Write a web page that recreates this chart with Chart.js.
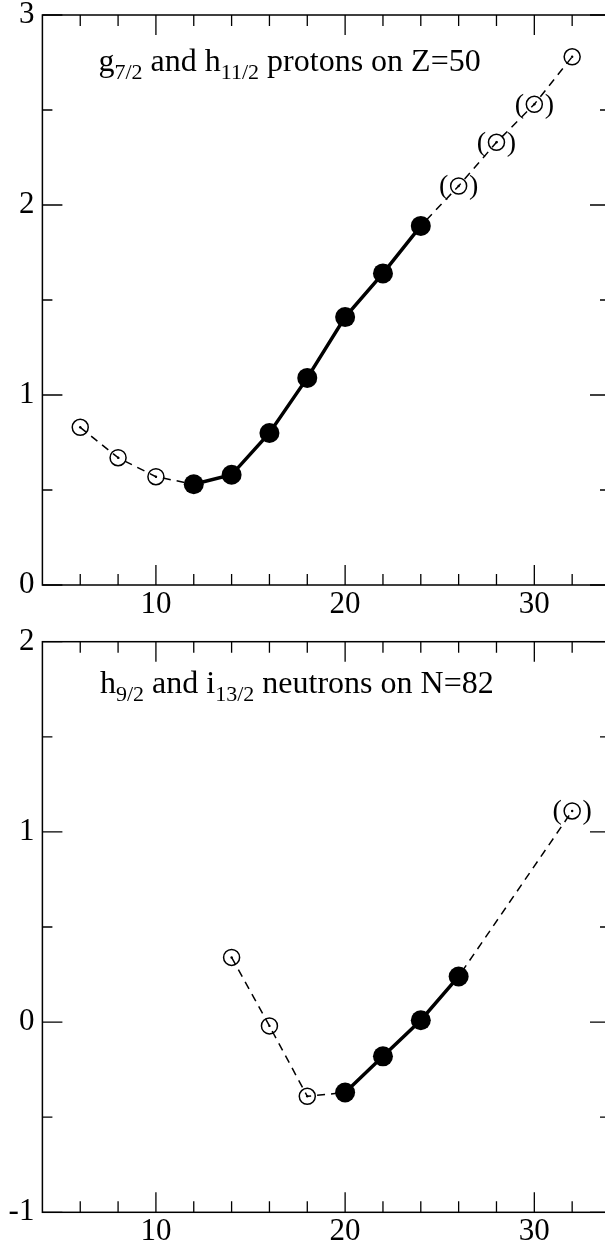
<!DOCTYPE html>
<html>
<head>
<meta charset="utf-8">
<script src="https://cdn.jsdelivr.net/npm/chart.js@4/dist/chart.umd.min.js"></script>
<style>
  html, body { margin: 0; padding: 0; background: #fff; }
  #wrap { position: relative; width: 605px; height: 1247px; overflow: hidden; background: #fff; }
  canvas { position: absolute; left: 0; }
</style>
</head>
<body>
<div id="wrap">
  <canvas id="protonPanel" width="620" height="625" style="top:0px"></canvas>
  <canvas id="neutronPanel" width="620" height="621" style="top:626px"></canvas>
</div>
<script>
// Upper panel: g7/2 and h11/2 protons on Z=50
const topX = [6, 8, 10, 12, 14, 16, 18, 20, 22, 24, 26, 28, 30, 32];
const topY = [0.83, 0.67, 0.57, 0.53, 0.58, 0.80, 1.09, 1.41, 1.64, 1.89, 2.10, 2.33, 2.53, 2.78];
const topFilled = [0, 0, 0, 1, 1, 1, 1, 1, 1, 1, 0, 0, 0, 0];
const topBracketed = [0, 0, 0, 0, 0, 0, 0, 0, 0, 0, 1, 1, 1, 0];

// Lower panel: h9/2 and i13/2 neutrons on N=82
const botX = [14, 16, 18, 20, 22, 24, 26, 32];
const botY = [0.34, -0.02, -0.39, -0.37, -0.18, 0.01, 0.24, 1.11];
const botFilled = [0, 0, 0, 1, 1, 1, 1, 0];
const botBracketed = [0, 0, 0, 0, 0, 0, 0, 1];

// Axis ticks
const xMajorTicks = [10, 20, 30];
const xMinorTicks = [6, 8, 12, 14, 16, 18, 22, 24, 26, 28, 32];
const topYMajor = [0, 1, 2, 3];
const topYMinor = [0.5, 1.5, 2.5];
const botYMajor = [-1, 0, 1, 2];
const botYMinor = [-0.5, 0.5, 1.5];

// Panel captions (text, 'sub' for subscripts)
const topCaption = [['g', ''], ['7/2', 'sub'], [' and h', ''], ['11/2', 'sub'], [' protons on Z=50', '']];
const botCaption = [['h', ''], ['9/2', 'sub'], [' and i', ''], ['13/2', 'sub'], [' neutrons on N=82', '']];

const SERIF = '"Liberation Serif", "Times New Roman", serif';

// Closed frame with inward major/minor ticks on all four sides
const frameTicks = {
  id: 'frameTicks',
  beforeDatasetsDraw(chart, args, o) {
    const { ctx, chartArea: a, scales: { x, y } } = chart;
    ctx.save();
    ctx.strokeStyle = '#000';
    ctx.lineWidth = 1.5;
    ctx.strokeRect(a.left, a.top, a.right - a.left, a.bottom - a.top);
    ctx.lineWidth = 1.3;
    ctx.beginPath();
    const tx = (v, len) => {
      const p = x.getPixelForValue(v);
      ctx.moveTo(p, a.bottom); ctx.lineTo(p, a.bottom - len);
      ctx.moveTo(p, a.top); ctx.lineTo(p, a.top + len);
    };
    const ty = (v, len) => {
      const p = y.getPixelForValue(v);
      ctx.moveTo(a.left, p); ctx.lineTo(a.left + len, p);
      ctx.moveTo(a.right, p); ctx.lineTo(a.right - len, p);
    };
    o.xMajor.forEach(v => tx(v, 20));
    o.xMinor.forEach(v => tx(v, 11));
    o.yMajor.forEach(v => ty(v, 20));
    o.yMinor.forEach(v => ty(v, 10));
    ctx.stroke();
    ctx.restore();
  }
};

// Parentheses around tentative points
const brackets = {
  id: 'brackets',
  afterDatasetsDraw(chart, args, o) {
    const ctx = chart.ctx;
    const meta = chart.getDatasetMeta(0);
    ctx.save();
    ctx.fillStyle = '#000';
    ctx.font = '28px ' + SERIF;
    ctx.textAlign = 'center';
    ctx.textBaseline = 'middle';
    o.flags.forEach((f, i) => {
      if (!f) return;
      const p = meta.data[i];
      ctx.fillText('(', p.x - 15, p.y + 1);
      ctx.fillText(')', p.x + 15, p.y + 1);
    });
    ctx.restore();
  }
};

// Caption with subscripts
const caption = {
  id: 'caption',
  afterDraw(chart, args, o) {
    const ctx = chart.ctx;
    ctx.save();
    ctx.fillStyle = '#000';
    ctx.textBaseline = 'alphabetic';
    ctx.textAlign = 'left';
    let x = o.x;
    for (const [s, kind] of o.parts) {
      const sub = kind === 'sub';
      ctx.font = (sub ? o.subSize : o.size) + 'px ' + SERIF;
      ctx.fillText(s, x, o.y + (sub ? o.subShift : 0));
      x += ctx.measureText(s).width;
    }
    ctx.restore();
  }
};

function buildPanel(id, xs, ys, filled, bracketed, yMin, yMax, yMajor, yMinor, parts, g) {
  const allPts = xs.map((x, i) => ({ x, y: ys[i] }));
  const openPts = xs.map((x, i) => ({ x, y: filled[i] ? null : ys[i] }));
  const solidPts = xs.map((x, i) => ({ x, y: filled[i] ? ys[i] : null }));
  return new Chart(document.getElementById(id), {
    type: 'line',
    data: {
      datasets: [
        {
          data: allPts, order: 3, tension: 0,
          borderColor: '#000', borderWidth: 1.5, borderDash: [8, 6],
          pointRadius: filled.map(f => (f ? 0 : 8)),
          pointBorderWidth: 1.5, pointBorderColor: '#000',
          pointBackgroundColor: 'rgba(0,0,0,0)'
        },
        {
          data: openPts, order: 2, showLine: false,
          pointRadius: 1.2, pointBorderWidth: 0,
          pointBackgroundColor: '#000'
        },
        {
          data: solidPts, order: 1, tension: 0, spanGaps: false,
          borderColor: '#000', borderWidth: 3.5,
          pointRadius: 10, pointBorderWidth: 0,
          pointBackgroundColor: '#000', pointBorderColor: '#000'
        }
      ]
    },
    plugins: [frameTicks, brackets, caption],
    options: {
      responsive: false,
      animation: false,
      devicePixelRatio: 1,
      events: [],
      layout: { padding: { top: g.top, right: g.right, left: 0, bottom: 0 } },
      plugins: {
        legend: { display: false },
        tooltip: { enabled: false },
        frameTicks: { xMajor: xMajorTicks, xMinor: xMinorTicks, yMajor, yMinor },
        brackets: { flags: bracketed },
        caption: { parts, x: g.capX, y: g.capY, size: 32, subSize: 22, subShift: 8 }
      },
      scales: {
        x: {
          type: 'linear', min: 4, max: 34,
          grid: { display: false, drawTicks: false },
          border: { display: false },
          afterBuildTicks: s => { s.ticks = xMajorTicks.map(v => ({ value: v })); },
          afterFit: s => { s.height = g.xh; s.paddingLeft = 0; s.paddingRight = 0; },
          ticks: { color: '#000', font: { family: SERIF, size: 31 }, padding: 1, maxRotation: 0, autoSkip: false }
        },
        y: {
          type: 'linear', min: yMin, max: yMax,
          grid: { display: false, drawTicks: false },
          border: { display: false },
          afterBuildTicks: s => { s.ticks = yMajor.map(v => ({ value: v })); },
          afterFit: s => { s.width = 42.4; s.paddingTop = 0; s.paddingBottom = 0; },
          ticks: { color: '#000', font: { family: SERIF, size: 31 }, padding: 8, autoSkip: false }
        }
      }
    }
  });
}

buildPanel('protonPanel', topX, topY, topFilled, topBracketed, 0, 3, topYMajor, topYMinor, topCaption,
  { top: 15, right: 8, xh: 40, capX: 98.5, capY: 71 });
buildPanel('neutronPanel', botX, botY, botFilled, botBracketed, -1, 2, botYMajor, botYMinor, botCaption,
  { top: 15.7, right: 8, xh: 34.7, capX: 100, capY: 67.3 });
</script>
</body>
</html>
